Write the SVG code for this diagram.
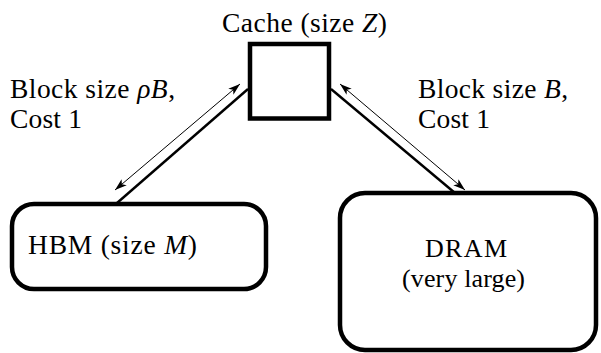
<svg xmlns="http://www.w3.org/2000/svg" width="601" height="353" viewBox="0 0 601 353">
<style>
.box{fill:#fff;stroke:#000;stroke-width:4.5}
.t{font-family:"Liberation Serif","Times New Roman",serif;font-size:27.5px;fill:#000}
.d{font-family:"Liberation Serif","Times New Roman",serif;font-size:26px;fill:#000}
.i{font-style:italic}
.thick{stroke:#000;stroke-width:2.4;fill:none}
.thin{stroke:#000;stroke-width:1;fill:none;marker-start:url(#ah);marker-end:url(#ah)}
</style>
<defs>
<marker id="ah" markerUnits="userSpaceOnUse" markerWidth="14" markerHeight="10" refX="12" refY="4" orient="auto-start-reverse" viewBox="0 0 14 8">
<path d="M0,0 L12,4 L0,8 L3,4 Z" fill="#000"/>
</marker>
</defs>
<g id="connectors">
<line class="thick" x1="248" y1="89" x2="117" y2="203"/>
<line class="thin" x1="240" y1="84" x2="115" y2="190"/>
<line class="thick" x1="331" y1="89" x2="455" y2="193"/>
<line class="thin" x1="340" y1="84" x2="465" y2="190"/>
</g>
<g id="cache">
<rect class="box" x="250" y="44" width="79" height="74.5"/>
<text class="t" x="222" y="32" textLength="165">Cache (size <tspan class="i">Z</tspan>)</text>
</g>
<g id="hbm">
<rect class="box" x="12" y="204" width="254" height="85" rx="22" ry="22"/>
<text class="t" x="28" y="254" textLength="169">HBM (size <tspan class="i">M</tspan>)</text>
</g>
<g id="dram">
<rect class="box" x="340" y="193" width="256" height="157" rx="25" ry="25"/>
<text class="d" x="466" y="257" text-anchor="middle" textLength="82">DRAM</text>
<text class="d" x="463.5" y="287" text-anchor="middle" textLength="123">(very large)</text>
</g>
<g id="label-hbm">
<text class="t" x="10" y="98" textLength="165">Block size <tspan class="i">ρB</tspan>,</text>
<text class="t" x="10" y="128" textLength="72">Cost 1</text>
</g>
<g id="label-dram">
<text class="t" x="418" y="98" textLength="150">Block size <tspan class="i">B</tspan>,</text>
<text class="t" x="418" y="128" textLength="72">Cost 1</text>
</g>
</svg>
